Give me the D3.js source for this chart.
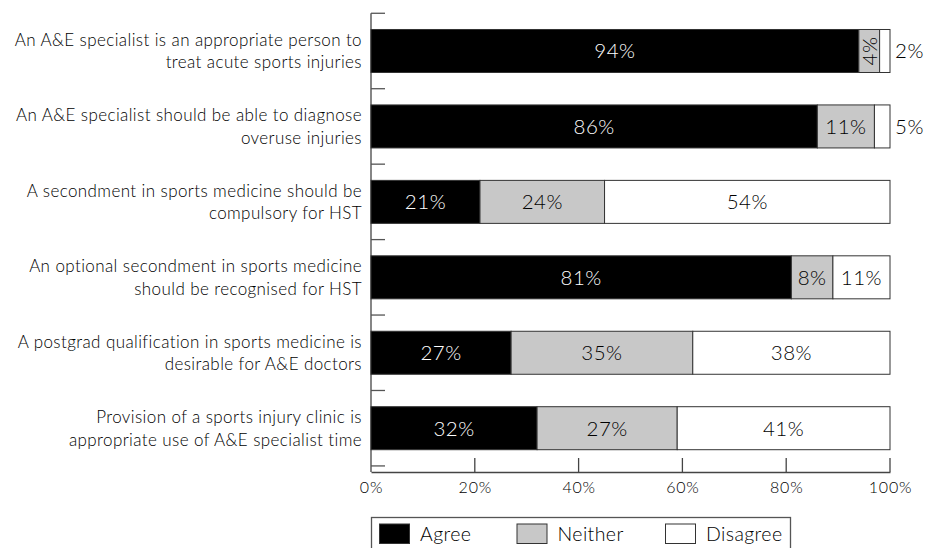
<!DOCTYPE html>
<html>
<head>
<meta charset="utf-8">
<script src="https://cdn.jsdelivr.net/npm/d3@7.9.0/dist/d3.min.js"></script>
<style>
  body { margin: 0; background: #fff; }
  svg { display: block; font-family: "Lato", "DejaVu Sans", sans-serif; font-weight: 300; letter-spacing: 0.4px; }
</style>
</head>
<body>
<div id="vis"></div>
<script>
const width = 925, height = 548;

// statements, two lines each
const statements = [
  ["An A&E specialist is an appropriate person to", "treat acute sports injuries"],
  ["An A&E specialist should be able to diagnose", "overuse injuries"],
  ["A secondment in sports medicine should be", "compulsory for HST"],
  ["An optional secondment in sports medicine", "should be recognised for HST"],
  ["A postgrad qualification in sports medicine is", "desirable for A&E doctors"],
  ["Provision of a sports injury clinic is", "appropriate use of A&E specialist time"]
];
const responses = ["Agree", "Neither", "Disagree"];
const agree    = [94, 86, 21, 81, 27, 32];
const neither  = [4, 11, 24, 8, 35, 27];
const disagree = [2, 5, 54, 11, 38, 41];
const xTicks = [0, 20, 40, 60, 80, 100];

const fills = { Agree: "#000", Neither: "#c8c8c8", Disagree: "#fff" };
const textFill = { Agree: "#fff", Neither: "#000", Disagree: "#000" };

const svg = d3.select("#vis").append("svg")
    .attr("width", width)
    .attr("height", height)
    .attr("viewBox", `0 0 ${width} ${height}`);

const x = d3.scaleLinear().domain([0, 100]).range([371, 890]);
const y = d3.scaleBand()
    .domain(d3.range(statements.length))
    .range([13.5, 465.7])
    .paddingInner(0.43)
    .paddingOuter(0.212);

const gap = (y.step() - y.bandwidth()) / 2;
const axisBottom = 472;

// build segments; the last segment runs to the end of the scale
const rows = statements.map((s, i) => {
  const vals = [agree[i], neither[i], disagree[i]];
  let cum = 0;
  return vals.map((v, j) => {
    const x0 = cum;
    const x1 = j === vals.length - 1 ? x.domain()[1] : cum + v;
    cum += v;
    return { row: i, key: responses[j], value: v, x0, x1 };
  });
});

// y axis: line plus ticks at band boundaries
svg.append("line")
    .attr("x1", x(0)).attr("x2", x(0))
    .attr("y1", y(0) - gap).attr("y2", axisBottom)
    .attr("stroke", "#444").attr("stroke-width", 1.3);

svg.append("g").selectAll("line")
  .data(d3.range(statements.length + 1))
  .join("line")
    .attr("x1", x(0)).attr("x2", x(0) + 14)
    .attr("y1", i => y(0) - gap + i * y.step())
    .attr("y2", i => y(0) - gap + i * y.step())
    .attr("stroke", "#555").attr("stroke-width", 1.3);

// x axis
const xAxis = svg.append("g")
    .attr("transform", `translate(0,${axisBottom})`)
    .call(d3.axisBottom(x).tickValues(xTicks).tickSize(0).tickPadding(10).tickFormat(d => d + "%"));
xAxis.attr("font-family", null).attr("font-size", 16);
xAxis.select(".domain").attr("stroke", "#444").attr("stroke-width", 1.3);
xAxis.selectAll("text")
    .attr("letter-spacing", "0.8px")
    .attr("fill", "#000");
svg.append("g").selectAll("line")
  .data(xTicks.filter(d => d > 0))
  .join("line")
    .attr("x1", d => x(d)).attr("x2", d => x(d))
    .attr("y1", axisBottom).attr("y2", axisBottom - 14)
    .attr("stroke", "#444").attr("stroke-width", 1.3);

// category labels
const labels = svg.append("g")
    .attr("font-size", 17)
    .attr("text-anchor", "end")
    .attr("fill", "#000");
statements.forEach((lines, i) => {
  const cy = y(i) + y.bandwidth() / 2;
  labels.append("text")
      .attr("x", 362).attr("y", cy - 5)
      .text(lines[0]);
  labels.append("text")
      .attr("x", 362).attr("y", cy + 17.5)
      .text(lines[1]);
});

// bars
const segs = rows.flat();
svg.append("g").selectAll("rect")
  .data(segs)
  .join("rect")
    .attr("x", d => x(d.x0))
    .attr("y", d => y(d.row))
    .attr("width", d => x(d.x1) - x(d.x0))
    .attr("height", y.bandwidth())
    .attr("fill", d => fills[d.key])
    .attr("stroke", "#333")
    .attr("stroke-width", 1);

// value labels
const vl = svg.append("g").attr("font-size", 20.5).attr("letter-spacing", "0.5px");
segs.forEach(d => {
  const w = x(d.x1) - x(d.x0);
  const cy = y(d.row) + y.bandwidth() / 2;
  if (d.key === "Disagree" && w < 18) {
    vl.append("text")
        .attr("x", x(d.x1) + 5).attr("y", cy + 7.5)
        .attr("fill", "#000")
        .text(d.value + "%");
  } else if (w < 25) {
    const cx = (x(d.x0) + x(d.x1)) / 2;
    vl.append("text")
        .attr("transform", `translate(${cx + 7.5},${cy}) rotate(-90)`)
        .attr("text-anchor", "middle")
        .attr("fill", textFill[d.key])
        .text(d.value + "%");
  } else {
    vl.append("text")
        .attr("x", (x(d.x0) + x(d.x1)) / 2).attr("y", cy + 7.5)
        .attr("text-anchor", "middle")
        .attr("fill", textFill[d.key])
        .text(d.value + "%");
  }
});

// legend
const legend = svg.append("g");
legend.append("rect")
    .attr("x", 371.5).attr("y", 517.5)
    .attr("width", 419).attr("height", 40)
    .attr("fill", "#fff").attr("stroke", "#555").attr("stroke-width", 1.3);
const legendX = [379.5, 517, 665.5];
responses.forEach((r, i) => {
  legend.append("rect")
      .attr("x", legendX[i]).attr("y", 524)
      .attr("width", 30).attr("height", 19.5)
      .attr("fill", fills[r]).attr("stroke", "#333").attr("stroke-width", 1);
  legend.append("text")
      .attr("x", legendX[i] + 40.5).attr("y", 541)
      .attr("font-size", 19.5)
      .attr("fill", "#000")
      .text(r);
});
</script>
</body>
</html>
